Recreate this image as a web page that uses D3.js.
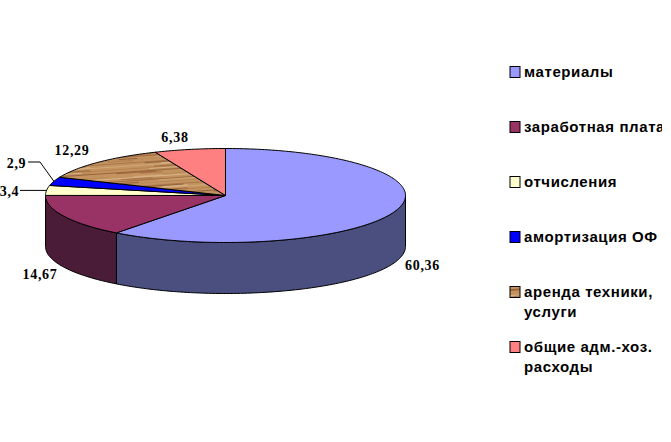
<!DOCTYPE html>
<html><head><meta charset="utf-8">
<script src="https://cdn.jsdelivr.net/npm/d3@7/dist/d3.min.js"></script>
<style>html,body{margin:0;padding:0;background:#fff}svg{display:block}</style>
</head><body><svg id="c" width="671" height="442"></svg>
<script>
const categories = ["материалы","заработная плата","отчисления","амортизация ОФ","аренда техники, услуги","общие адм.-хоз. расходы"];
const values = [60.36,14.67,3.4,2.9,12.29,6.38];
const valueLabels = ["60,36","14,67","3,4","2,9","12,29","6,38"];
const topColors = ["#9999ff","#993366","#ffffcc","#0000ff","url(#wood)","#ff8080"];
const sideColors = ["#4a4f80","#4a1c38","#80805f","#00007f","#6b4a2a","#804040"];
const legendLines = [["материалы"],["заработная плата"],["отчисления"],["амортизация ОФ"],["аренда техники,","услуги"],["общие адм.-хоз.","расходы"]];
const woodBands = ["#b98a58","#a9744a","#d0a878","#b5824f","#96653c","#c4935f","#d8b488","#a06c42"];

const svg = d3.select("#c");
const defs = svg.append("defs");
defs.append("clipPath").attr("id","legendClip").append("rect").attr("x",490).attr("y",40).attr("width",172).attr("height",350);
const pat = defs.append("pattern").attr("id","wood").attr("patternUnits","userSpaceOnUse").attr("width",96).attr("height",24).attr("patternTransform","rotate(-4)");
pat.append("rect").attr("width",96).attr("height",24).attr("fill","#c2925f");
woodBands.forEach((c,i)=>{
  pat.append("rect").attr("x",0).attr("y",i*3).attr("width",96).attr("height",1).attr("fill",c);
  pat.append("rect").attr("x",(i*37)%70).attr("y",i*3+1).attr("width",26+(i*11)%30).attr("height",1).attr("fill",woodBands[(i+3)%8]);
  pat.append("rect").attr("x",(i*53)%60).attr("y",i*3+2).attr("width",18+(i*7)%24).attr("height",1).attr("fill",woodBands[(i+5)%8]);
});

const cx=225.5, cy=195.5, rx=180, ry=47, depth=51;
const px = d3.scaleLinear().domain([-1,1]).range([cx-rx,cx+rx]);
const py = d3.scaleLinear().domain([-1,1]).range([cy-ry,cy+ry]);
const pie = d3.pie().sort(null).value(d=>d);
const arcs = pie(values);
const line = d3.line().x(d=>d[0]).y(d=>d[1]);
const rim = (a,dy=0)=>[px(Math.sin(a)),py(-Math.cos(a))+dy];
const samples=(a,b)=>{const n=Math.max(2,Math.ceil((b-a)/0.02));return d3.range(n+1).map(i=>a+(b-a)*i/n);};

const g = svg.append("g").attr("stroke","#000").attr("stroke-width",1).attr("stroke-linejoin","round");
const lo=Math.PI/2, hi=3*Math.PI/2;
arcs.forEach((d,i)=>{
  const a=Math.max(d.startAngle,lo), b=Math.min(d.endAngle,hi);
  if(b<=a) return;
  const s=samples(a,b);
  const pts=s.map(t=>rim(t)).concat(s.slice().reverse().map(t=>rim(t,depth)));
  g.append("path").attr("d",line(pts)+"Z").attr("fill",sideColors[i]);
});
arcs.forEach((d,i)=>{
  const pts=[[px(0),py(0)]].concat(samples(d.startAngle,d.endAngle).map(t=>rim(t)));
  g.append("path").attr("d",line(pts)+"Z").attr("fill",topColors[i]);
});

const leaderG=svg.append("g").attr("fill","none").attr("stroke","#000");
const mid=d=>(d.startAngle+d.endAngle)/2;
const p29=rim(mid(arcs[3])), p34=rim(mid(arcs[2]));
leaderG.append("path").attr("d",line([[28,162],[40,162],p29]));
leaderG.append("path").attr("d",line([[20,p34[1]],p34]));

const labelPos=[[422.5,270],[40,279],[9.5,196],[16.5,168],[72,155],[175,142]];
svg.append("g").selectAll("text").data(valueLabels).join("text")
  .attr("x",(d,i)=>labelPos[i][0]).attr("y",(d,i)=>labelPos[i][1])
  .attr("text-anchor","middle").attr("font-family","Liberation Serif").attr("font-weight","bold")
  .attr("font-size",14).attr("letter-spacing",0.7).attr("fill","#000").text(d=>d);

const rowY=d3.scaleLinear().domain([0,5]).range([72,347]);
const lg=svg.append("g").attr("clip-path","url(#legendClip)");
categories.forEach((c,i)=>{
  const y=rowY(i);
  lg.append("rect").attr("x",510).attr("y",y-5.5).attr("width",10).attr("height",11)
    .attr("fill",topColors[i]).attr("stroke","#000");
  legendLines[i].forEach((t,j)=>{
    lg.append("text").attr("x",524).attr("y",y+5+j*20).attr("font-family","Liberation Sans")
      .attr("font-weight","bold").attr("font-size",15).attr("letter-spacing",0.6).attr("fill","#000").text(t);
  });
});
</script></body></html>
